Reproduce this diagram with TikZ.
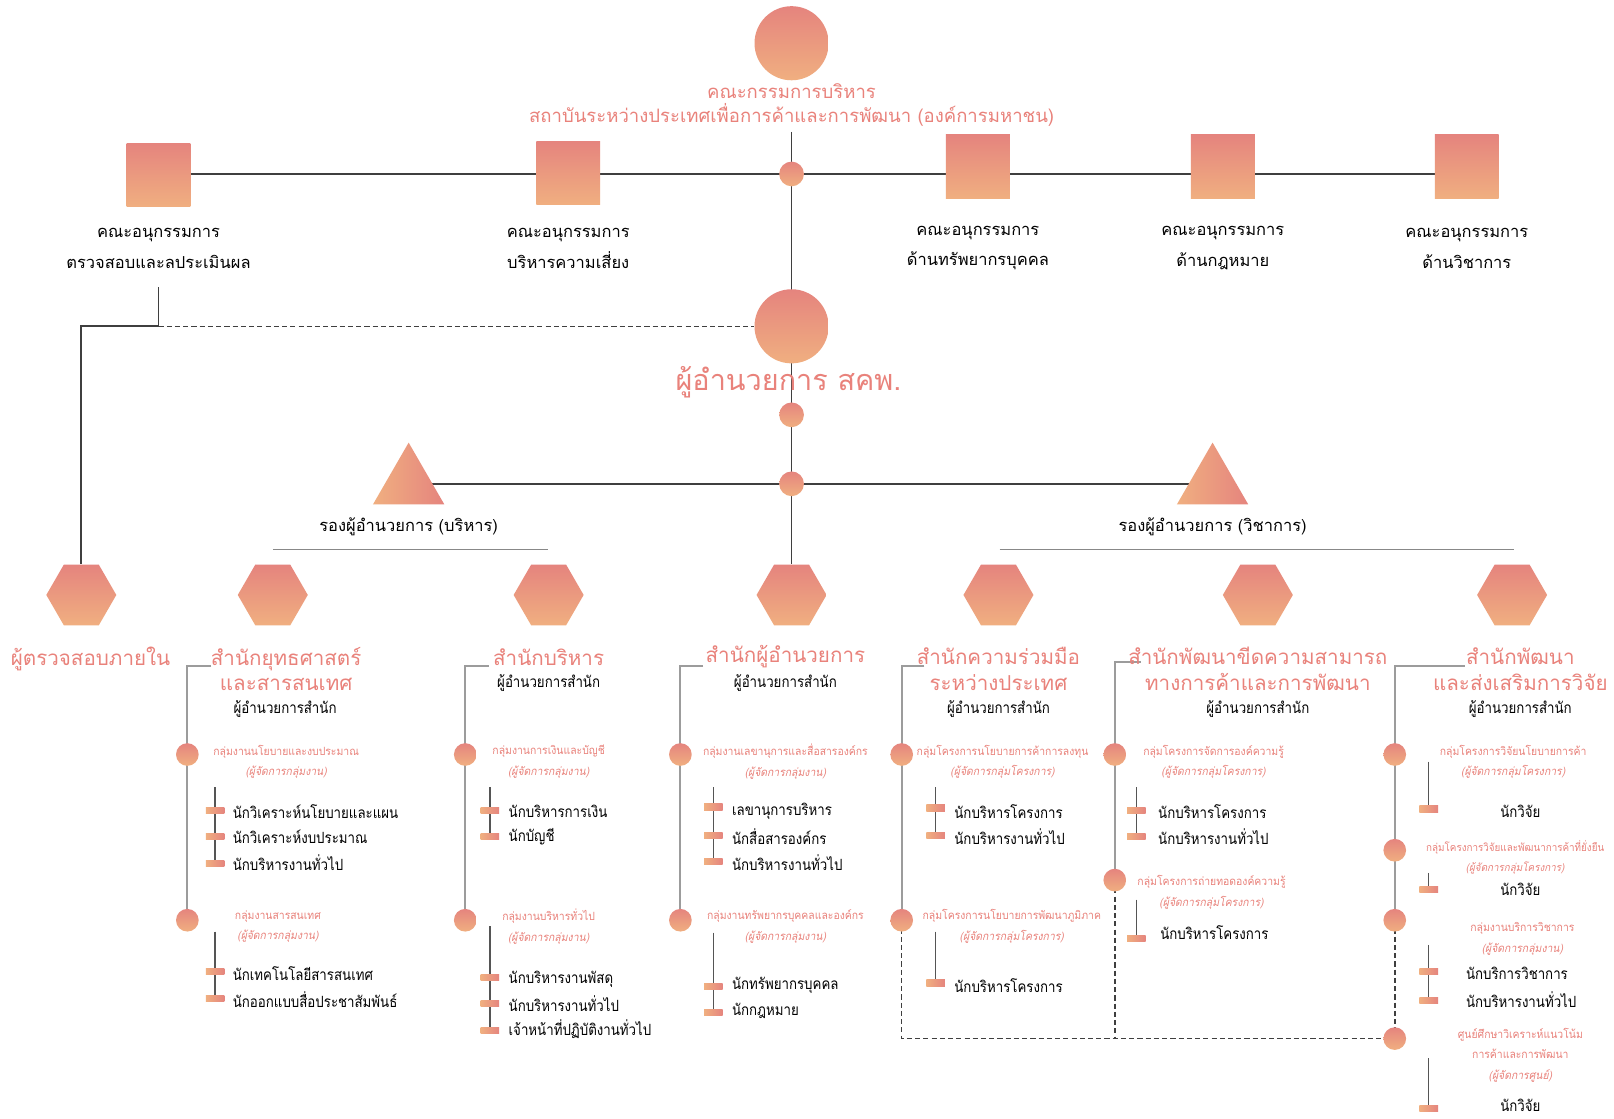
\documentclass[tikz,border=0pt]{standalone}
\usepackage{fontspec}
\newfontfamily\thai[Script=Thai]{Loma}
\newfontfamily\thaic[Script=Thai,FakeStretch=0.86]{Loma}
\newfontfamily\thaig[Script=Thai,FakeStretch=0.92]{Loma}
\newfontfamily\thaiit[Script=Thai,FakeSlant=0.2,FakeStretch=0.92]{Loma}
\usetikzlibrary{shapes.geometric,backgrounds}
\definecolor{salA}{HTML}{E5847E}
\definecolor{salB}{HTML}{F0AF80}
\definecolor{salT}{HTML}{E9827B}
\definecolor{dk}{HTML}{3F3F3F}
\definecolor{gy}{HTML}{9C9C9C}
\definecolor{sg}{HTML}{555555}
\tikzset{
  grad/.style={draw=none, top color=salA, bottom color=salB, inner sep=0pt},
  bigc/.style={grad, circle, minimum size=72pt},
  dotc/.style={grad, circle, minimum size=24pt},
  gdot/.style={grad, circle, minimum size=22pt},
  sqr/.style={grad, rectangle, minimum width=62pt, minimum height=62pt},
  hexa/.style={grad, regular polygon, regular polygon sides=6, minimum size=68pt},
  tri/.style={draw=none, left color=salB, right color=salA, regular polygon, regular polygon sides=3, minimum size=80pt, inner sep=0pt},
  tk/.style={draw=none, left color=salB, right color=salA, rectangle, minimum width=18pt, minimum height=6pt, inner sep=0pt},
  ln/.style={draw=dk, line width=1.8pt},
  glin/.style={draw=gy, line width=1.8pt},
  slin/.style={draw=sg, line width=1.3pt},
  ulin/.style={draw=gy!120, line width=1.2pt},
  dlin/.style={draw=dk, line width=1.5pt, dash pattern=on 5pt off 3pt},
  ttlt/.style={font=\thai\fontsize{18}{23}\selectfont, text=salT, align=center, inner sep=0pt},
  bigt/.style={font=\thai\fontsize{28}{32}\selectfont, text=salT, inner sep=0pt},
  offt/.style={font=\thai\fontsize{20}{25}\selectfont, text=salT, align=center, inner sep=0pt},
  labt/.style={font=\thai\fontsize{16}{30}\selectfont, align=center, inner sep=0pt},
  labs/.style={font=\thai\fontsize{16}{20}\selectfont, inner sep=0pt},
  dirs/.style={font=\thaic\fontsize{15}{18}\selectfont, inner sep=0pt},
  grpt/.style={font=\thaig\fontsize{11}{20}\selectfont, text=salT, align=center, inner sep=0pt},
  itm/.style={font=\thaic\fontsize{15}{18}\selectfont, anchor=west, inner sep=0pt},
  itc/.style={font=\thaic\fontsize{15}{18}\selectfont, inner sep=0pt},
}
\newcommand{\mgr}[1]{{\thaiit #1}}
\begin{document}
\begin{tikzpicture}[x=1pt,y=-1pt]
\useasboundingbox (0,0) rectangle (1568,1087);
% ---------- top ----------
\node[bigc] (board) at (769,42) {};
\node[ttlt] (boardt) at (769,102) {คณะกรรมการบริหาร\\สถาบันระหว่างประเทศเพื่อการค้าและการพัฒนา (องค์การมหาชน)};
\coordinate (tb) at (769,128);
\node[dotc] (hub) at (769,169) {};
\node[sqr] (sq1) at (154,170) {};
\node[sqr] (sq2) at (552,168) {};
\node[sqr] (sq3) at (950,162) {};
\node[sqr] (sq4) at (1188,162) {};
\node[sqr] (sq5) at (1425,162) {};
\node[labt] (l1) at (154,241) {คณะอนุกรรมการ\\ตรวจสอบและลประเมินผล};
\node[labt] (l2) at (552,241) {คณะอนุกรรมการ\\บริหารความเสี่ยง};
\node[labt] (l3) at (950,241) {คณะอนุกรรมการ\\ด้านทรัพยากรบุคคล};
\node[labt] (l4) at (1188,241) {คณะอนุกรรมการ\\ด้านกฎหมาย};
\node[labt] (l5) at (1425,241) {คณะอนุกรรมการ\\ด้านวิชาการ};
\coordinate (a1) at (154,279);
% ---------- director ----------
\node[bigc] (dir) at (769,317) {};
\node[bigt] (dirt) at (766,371) {ผู้อำนวยการ สคพ.};
\node[dotc] (d1) at (769,403) {};
\node[dotc] (d2) at (769,470) {};
\node[tri] (tL) at (397,470) {};
\node[tri] (tR) at (1178,470) {};
\node[labs] (dL) at (397,512) {รองผู้อำนวยการ (บริหาร)};
\node[labs] (dR) at (1178,512) {รองผู้อำนวยการ (วิชาการ)};
\coordinate (uL1) at (265,534); \coordinate (uL2) at (532,534);
\coordinate (uR1) at (971,534); \coordinate (uR2) at (1471,534);
% ---------- hexagons ----------
\node[hexa] (hex1) at (79,578) {};
\node[hexa] (hex2) at (265,578) {};
\node[hexa] (hex3) at (533,578) {};
\node[hexa] (hex4) at (769,578) {};
\node[hexa] (hex5) at (970,578) {};
\node[hexa] (hex6) at (1222,578) {};
\node[hexa] (hex7) at (1469,578) {};
% ---------- office titles ----------
\node[offt] (o1) at (88,640) {ผู้ตรวจสอบภายใน};
\node[offt] (o2) at (278,650) {สำนักยุทธศาสตร์\\และสารสนเทศ};
\node[offt] (o3) at (533,638) {สำนักบริหาร};
\node[offt] (o4) at (763,638) {สำนักผู้อำนวยการ};
\node[offt] (o5) at (970,650) {สำนักความร่วมมือ\\ระหว่างประเทศ};
\node[offt] (o6) at (1222,650) {สำนักพัฒนาขีดความสามารถ\\ทางการค้าและการพัฒนา};
\node[offt] (o7) at (1477,650) {สำนักพัฒนา\\และส่งเสริมการวิจัย};
\node[dirs] (m2) at (277,689) {ผู้อำนวยการสำนัก};
\node[dirs] (m3) at (533,664) {ผู้อำนวยการสำนัก};
\node[dirs] (m4) at (763,664) {ผู้อำนวยการสำนัก};
\node[dirs] (m5) at (970,689) {ผู้อำนวยการสำนัก};
\node[dirs] (m6) at (1222,689) {ผู้อำนวยการสำนัก};
\node[dirs] (m7) at (1477,689) {ผู้อำนวยการสำนัก};
\coordinate (b2) at (205,647); \coordinate (b3) at (475,647);
\coordinate (b4) at (683,647); \coordinate (b5) at (898,647);
\coordinate (b6) at (1108,643); \coordinate (b7) at (1423,647);
% ---------- column 2 ----------
\node[gdot] (g2a) at (182,733) {};
\node[grpt] (gt2a) at (278,740) {กลุ่มงานนโยบายและงบประมาณ\\\mgr{(ผู้จัดการกลุ่มงาน)}};
\coordinate (s2a) at (209,765);
\node[tk] (k2a1) at (209,787) {}; \node[tk] (k2a2) at (209,813) {}; \node[tk] (k2a3) at (209,839) {};
\node[itm] (i2a1) at (226,788) {นักวิเคราะห์นโยบายและแผน};
\node[itm] (i2a2) at (226,813) {นักวิเคราะห์งบประมาณ};
\node[itm] (i2a3) at (226,838) {นักบริหารงานทั่วไป};
\node[gdot] (g2b) at (182,894) {};
\node[grpt] (gt2b) at (270,900) {กลุ่มงานสารสนเทศ\\\mgr{(ผู้จัดการกลุ่มงาน)}};
\coordinate (s2b) at (209,905);
\node[tk] (k2b1) at (209,944) {}; \node[tk] (k2b2) at (209,970) {};
\node[itm] (i2b1) at (226,946) {นักเทคโนโลยีสารสนเทศ};
\node[itm] (i2b2) at (226,971) {นักออกแบบสื่อประชาสัมพันธ์};
% ---------- column 3 ----------
\node[gdot] (g3a) at (452,733) {};
\node[grpt] (gt3a) at (533,740) {กลุ่มงานการเงินและบัญชี\\\mgr{(ผู้จัดการกลุ่มงาน)}};
\coordinate (s3a) at (476,765);
\node[tk] (k3a1) at (476,787) {}; \node[tk] (k3a2) at (476,813) {};
\node[itm] (i3a1) at (494,788) {นักบริหารการเงิน};
\node[itm] (i3a2) at (494,813) {นักบัญชี};
\node[gdot] (g3b) at (452,894) {};
\node[grpt] (gt3b) at (533,900) {กลุ่มงานบริหารทั่วไป\\\mgr{(ผู้จัดการกลุ่มงาน)}};
\coordinate (s3b) at (476,900);
\node[tk] (k3b1) at (476,950) {}; \node[tk] (k3b2) at (476,975) {}; \node[tk] (k3b3) at (476,1001) {};
\node[itm] (i3b1) at (494,951) {นักบริหารงานพัสดุ};
\node[itm] (i3b2) at (494,975) {นักบริหารงานทั่วไป};
\node[itm] (i3b3) at (494,1000) {เจ้าหน้าที่ปฏิบัติงานทั่วไป};
% ---------- column 4 ----------
\node[gdot] (g4a) at (661,733) {};
\node[grpt] (gt4a) at (763,740) {กลุ่มงานเลขานุการและสื่อสารองค์กร\\\mgr{(ผู้จัดการกลุ่มงาน)}};
\coordinate (s4a) at (693,765);
\node[tk] (k4a1) at (693,784) {}; \node[tk] (k4a2) at (693,812) {}; \node[tk] (k4a3) at (693,837) {};
\node[itm] (i4a1) at (711,788) {เลขานุการบริหาร};
\node[itm] (i4a2) at (711,813) {นักสื่อสารองค์กร};
\node[itm] (i4a3) at (711,838) {นักบริหารงานทั่วไป};
\node[gdot] (g4b) at (661,894) {};
\node[grpt] (gt4b) at (763,900) {กลุ่มงานทรัพยากรบุคคลและองค์กร\\\mgr{(ผู้จัดการกลุ่มงาน)}};
\coordinate (s4b) at (693,906);
\node[tk] (k4b1) at (693,958) {}; \node[tk] (k4b2) at (693,984) {};
\node[itm] (i4b1) at (711,957) {นักทรัพยากรบุคคล};
\node[itm] (i4b2) at (711,982) {นักกฎหมาย};
% ---------- column 5 ----------
\node[gdot] (g5a) at (876,733) {};
\node[grpt] (gt5a) at (974,740) {กลุ่มโครงการนโยบายการค้าการลงทุน\\\mgr{(ผู้จัดการกลุ่มโครงการ)}};
\coordinate (s5a) at (909,765);
\node[tk] (k5a1) at (909,785) {}; \node[tk] (k5a2) at (909,812) {};
\node[itm] (i5a1) at (927,788) {นักบริหารโครงการ};
\node[itm] (i5a2) at (927,813) {นักบริหารงานทั่วไป};
\node[gdot] (g5b) at (876,894) {};
\node[grpt] (gt5b) at (983,900) {กลุ่มโครงการนโยบายการพัฒนาภูมิภาค\\\mgr{(ผู้จัดการกลุ่มโครงการ)}};
\coordinate (s5b) at (909,905);
\node[tk] (k5b1) at (909,955) {};
\node[itm] (i5b1) at (927,957) {นักบริหารโครงการ};
% ---------- column 6 ----------
\node[gdot] (g6a) at (1083,733) {};
\node[grpt] (gt6a) at (1179,740) {กลุ่มโครงการจัดการองค์ความรู้\\\mgr{(ผู้จัดการกลุ่มโครงการ)}};
\coordinate (s6a) at (1104,765);
\node[tk] (k6a1) at (1104,787) {}; \node[tk] (k6a2) at (1104,813) {};
\node[itm] (i6a1) at (1125,788) {นักบริหารโครงการ};
\node[itm] (i6a2) at (1125,813) {นักบริหารงานทั่วไป};
\node[gdot] (g6b) at (1083,855) {};
\node[grpt] (gt6b) at (1177,867) {กลุ่มโครงการถ่ายทอดองค์ความรู้\\\mgr{(ผู้จัดการกลุ่มโครงการ)}};
\coordinate (s6b) at (1104,874);
\node[tk] (k6b1) at (1104,912) {};
\node[itm] (i6b1) at (1127,906) {นักบริหารโครงการ};
% ---------- column 7 ----------
\node[gdot] (g7a) at (1355,733) {};
\node[grpt] (gt7a) at (1470,740) {กลุ่มโครงการวิจัยนโยบายการค้า\\\mgr{(ผู้จัดการกลุ่มโครงการ)}};
\coordinate (s7a) at (1388,740);
\node[tk] (k7a1) at (1388,786) {};
\node[itc] (i7a1) at (1477,788) {นักวิจัย};
\node[gdot] (g7b) at (1355,826) {};
\node[grpt, font=\thaig\fontsize{10.4}{20}\selectfont] (gt7b) at (1472,833) {กลุ่มโครงการวิจัยและพัฒนาการค้าที่ยั่งยืน\\\mgr{(ผู้จัดการกลุ่มโครงการ)}};
\coordinate (s7b) at (1388,848);
\node[tk] (k7b1) at (1388,864) {};
\node[itc] (i7b1) at (1477,864) {นักวิจัย};
\node[gdot] (g7c) at (1355,894) {};
\node[grpt] (gt7c) at (1479,912) {กลุ่มงานบริการวิชาการ\\\mgr{(ผู้จัดการกลุ่มงาน)}};
\coordinate (s7c) at (1388,918);
\node[tk] (k7c1) at (1388,944) {}; \node[tk] (k7c2) at (1388,972) {};
\node[itm] (i7c1) at (1424,946) {นักบริการวิชาการ};
\node[itm] (i7c2) at (1424,971) {นักบริหารงานทั่วไป};
\node[gdot] (g7d) at (1355,1009) {};
\node[grpt] (gt7d) at (1477,1025) {ศูนย์ศึกษาวิเคราะห์แนวโน้ม\\การค้าและการพัฒนา\\\mgr{(ผู้จัดการศูนย์)}};
\coordinate (s7d) at (1388,1028);
\node[tk] (k7d1) at (1388,1077) {};
\node[itc] (i7d1) at (1477,1074) {นักวิจัย};
% ---------- connectors ----------
\begin{scope}[on background layer]
\fill[white] (0,0) rectangle (1568,1087);
\draw[ln] (tb) -- (dir.center);
\draw[ln] (sq1.center |- hub) -- (sq5.center |- hub);
\draw[ln] (a1) -- (a1 |- dir) -| (hex1.north);
\draw[dlin] (a1 |- dir) -- (dir.west);
\draw[ln] (dir.center) -- (hex4.north);
\draw[ln] (tL.center) -- (tR.center);
\draw[ulin] (uL1) -- (uL2);
\draw[ulin] (uR1) -- (uR2);
\draw[glin] (b2) -| (g2b.center);
\draw[glin] (b3) -| (g3b.center);
\draw[glin] (b4) -| (g4b.center);
\draw[glin] (b5) -| (g5b.center);
\draw[glin] (b6) -| (g6b.center);
\draw[glin] (b7) -| (g7c.center);
\draw[dlin] (g5b.center) |- (g7d.center);
\draw[dlin] (g6b.center) -- (g6b.center |- g7d.center);
\draw[dlin] (g7c.center) -- (g7d.center);
\draw[slin] (s2a) -- (k2a3.center);
\draw[slin] (s2b) -- (k2b2.center);
\draw[slin] (s3a) -- (k3a2.center);
\draw[slin] (s3b) -- (k3b3.center);
\draw[slin] (s4a) -- (k4a3.center);
\draw[slin] (s4b) -- (k4b2.center);
\draw[slin] (s5a) -- (k5a2.center);
\draw[slin] (s5b) -- (k5b1.center);
\draw[slin] (s6a) -- (k6a2.center);
\draw[slin] (s6b) -- (k6b1.center);
\draw[slin] (s7a) -- (k7a1.center);
\draw[slin] (s7b) -- (k7b1.center);
\draw[slin] (s7c) -- (k7c2.center);
\draw[slin] (s7d) -- (k7d1.center);
\end{scope}
\end{tikzpicture}
\end{document}
